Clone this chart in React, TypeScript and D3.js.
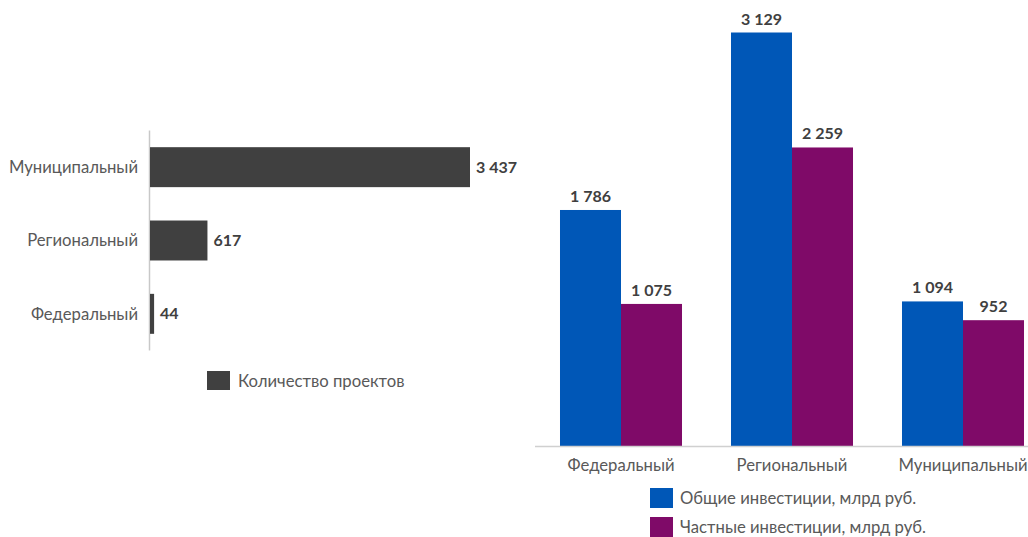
import React from "react";
import * as d3 from "d3";

const countCategories = ["Муниципальный", "Региональный", "Федеральный"];
const countValues = [3437, 617, 44];
const countLegend = "Количество проектов";

const investCategories = ["Федеральный", "Региональный", "Муниципальный"];
const totalInvest = [1786, 3129, 1094];
const privateInvest = [1075, 2259, 952];
const seriesNames = ["Общие инвестиции, млрд руб.", "Частные инвестиции, млрд руб."];

const GRAY = "#404040";
const BLUE = "#0057B7";
const PURPLE = "#7F0A68";
const LABEL = "#595959";
const FONT = "Lato, 'Open Sans', sans-serif";

const fmt = (v: number) => {
  const s = String(v);
  return s.replace(/\B(?=(\d{3})+(?!\d))/g, " ");
};

export default function App() {
  // Left horizontal bar chart
  const yL = d3.scaleBand<string>().domain(countCategories).range([130.5, 350.5]).paddingInner(0.455).paddingOuter(0.2275);
  const xL = d3.scaleLinear().domain([0, 3437]).range([150, 470]);

  // Right grouped column chart
  const x0 = d3.scaleBand<string>().domain(investCategories).range([535.5, 1048.5]).paddingInner(0.2865).paddingOuter(0.14325);
  const x1 = d3.scaleBand<string>().domain(["total", "private"]).range([0, x0.bandwidth()]);
  const yR = d3.scaleLinear().domain([0, 3129]).range([446, 32.5]);

  const groups = investCategories.map((c, i) => ({
    c,
    vals: [
      { k: "total", v: totalInvest[i], color: BLUE },
      { k: "private", v: privateInvest[i], color: PURPLE },
    ],
  }));

  return (
    <svg width={1028} height={537} style={{ position: "absolute", left: 0, top: 0, fontFamily: FONT }}>
      <rect width={1028} height={537} fill="#fff" />
      {/* left chart */}
      <line x1={149.5} x2={149.5} y1={yL.range()[0]} y2={yL.range()[1]} stroke="#c8c8c8" strokeWidth={1.5} />
      {countCategories.map((c, i) => {
        const y = yL(c)!;
        const bw = yL.bandwidth();
        return (
          <g key={c}>
            <rect x={xL(0)} y={y} width={xL(countValues[i]) - xL(0)} height={bw} fill={GRAY} />
            <text x={138} y={y + bw / 2} dy="0.35em" textAnchor="end" fontSize={16.7} fill={LABEL}>{c}</text>
            <text x={xL(countValues[i]) + 6} y={y + bw / 2} dy="0.35em" fontSize={16} fontWeight="bold" fill={GRAY}>{fmt(countValues[i])}</text>
          </g>
        );
      })}
      <rect x={207} y={371} width={23} height={19} fill={GRAY} />
      <text x={238} y={381} dy="0.35em" fontSize={16.7} fill={LABEL}>{countLegend}</text>

      {/* right chart */}
      {groups.map((g) => (
        <g key={g.c} transform={`translate(${x0(g.c)},0)`}>
          {g.vals.map((d) => (
            <g key={d.k}>
              <rect x={x1(d.k)!} y={yR(d.v)} width={x1.bandwidth()} height={yR(0) - yR(d.v)} fill={d.color} />
              <text x={x1(d.k)! + x1.bandwidth() / 2} y={yR(d.v) - 8} textAnchor="middle" fontSize={16} fontWeight="bold" fill={GRAY}>{fmt(d.v)}</text>
            </g>
          ))}
          <text x={x0.bandwidth() / 2} y={465} dy="0.35em" textAnchor="middle" fontSize={16.7} fill={LABEL}>{g.c}</text>
        </g>
      ))}
      <line x1={535} x2={1028} y1={446.5} y2={446.5} stroke="#d0d0d0" strokeWidth={1.5} />
      {seriesNames.map((s, i) => (
        <g key={s}>
          <rect x={650} y={488 + i * 29} width={23} height={20} fill={i === 0 ? BLUE : PURPLE} />
          <text x={680} y={498 + i * 29} dy="0.35em" fontSize={16.7} fill={LABEL}>{s}</text>
        </g>
      ))}
    </svg>
  );
}
